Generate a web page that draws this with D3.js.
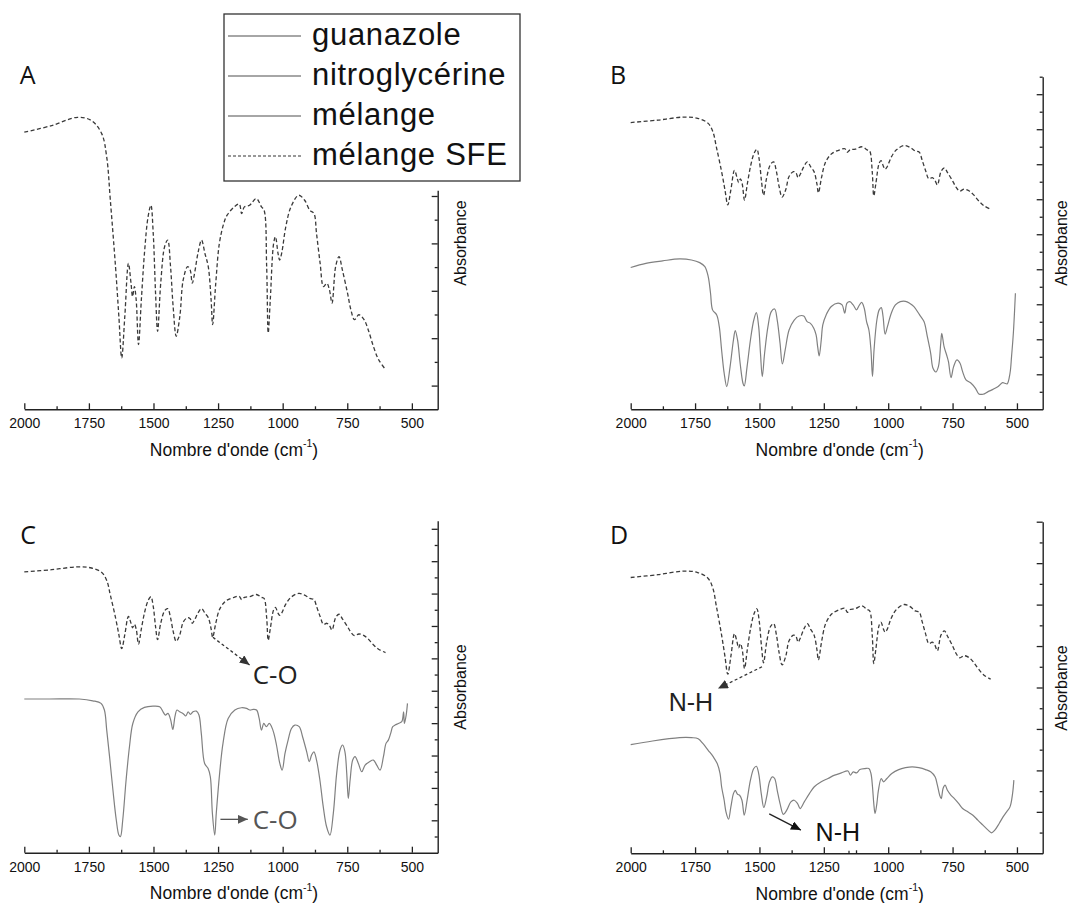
<!DOCTYPE html>
<html><head><meta charset="utf-8">
<script src="https://cdn.jsdelivr.net/npm/d3@7"></script>
<style>body{margin:0;background:#fff}svg{display:block}</style>
</head><body><svg id="chart" width="1071" height="903"></svg>
<script>
// ---------- DATA ----------
const wavenumberMajor = [2000, 1750, 1500, 1250, 1000, 750, 500];
const wavenumberMinor = [1875, 1625, 1375, 1125, 875, 625];
const legendLabels = ["guanazole", "nitroglycérine", "mélange", "mélange SFE"];
const panelLetters = ["A", "B", "C", "D"];
const xTitle = "Nombre d'onde (cm";
const yTitle = "Absorbance";

// mélange SFE (dashed), arbitrary absorbance units
const sfeWn = [2000,1894,1794,1740,1700,1681,1667,1647,1634,1623,1611,1597,1587,1581,1574,1567,1558,1547,1534,1521,1510,1501,1492,1484,1472,1457,1445,1434,1424,1412,1398,1385,1368,1358,1350,1341,1328,1314,1301,1288,1277,1271,1259,1245,1228,1215,1188,1168,1159,1148,1128,1102,1082,1072,1062,1056,1048,1035,1028,1018,1012,1004,988,968,938,915,895,879,869,855,842,829,819,809,795,782,769,749,736,722,705,685,669,649,629,602];
const sfeAbs = [11.69,11.97,12.32,12.18,11.62,10.64,8.82,6.02,3.92,2.17,3.92,6.16,5.32,4.76,5.18,4.62,2.73,4.62,6.72,8.12,8.61,7.42,4.90,3.29,5.32,6.86,7.14,6.02,4.34,3.08,3.92,5.46,6.02,5.88,5.32,5.74,6.58,7.14,6.58,6.02,4.62,3.57,5.32,7.00,7.84,8.19,8.54,8.66,8.26,8.54,8.61,8.89,8.54,8.40,6.02,3.22,4.62,7.00,7.28,6.58,6.30,6.58,7.70,8.54,9.03,8.82,8.40,8.26,7.42,6.16,5.18,5.32,5.04,4.48,6.02,6.44,5.88,4.90,4.20,3.78,3.99,3.78,3.36,2.66,2.10,1.68];

// guanazole (panel B, solid)
const guanWn = [2000,1941,1876,1810,1764,1732,1712,1699,1690,1682,1666,1656,1647,1637,1627,1614,1601,1594,1585,1575,1564,1559,1548,1535,1522,1512,1503,1496,1489,1480,1467,1454,1441,1431,1420,1411,1400,1385,1365,1346,1328,1315,1302,1289,1280,1274,1268,1260,1254,1241,1221,1195,1179,1169,1160,1149,1136,1123,1114,1103,1093,1084,1075,1067,1061,1055,1044,1035,1027,1020,1012,1003,988,972,953,933,917,900,878,861,848,835,826,815,805,796,792,783,773,766,756,746,733,721,711,698,678,661,648,632,612,593,573,556,547,538,527,521,514,506];
const guanAbs = [8.10,8.34,8.48,8.59,8.53,8.38,8.15,7.58,6.63,5.68,5.39,4.72,3.39,2.06,1.30,2.44,3.96,4.50,3.96,2.63,1.49,1.33,2.44,3.96,5.10,5.52,4.72,3.20,1.87,3.20,4.72,5.58,5.73,5.10,3.77,2.59,3.39,4.53,5.10,5.33,5.33,5.01,4.91,4.63,4.25,3.58,3.05,3.96,4.82,5.39,5.87,6.06,5.96,5.49,6.06,6.15,5.96,5.68,5.90,6.11,5.77,5.01,4.53,3.39,1.87,3.39,5.10,5.68,5.81,5.30,4.29,4.72,5.49,5.96,6.15,6.17,6.06,5.87,5.39,5.01,4.15,3.20,2.34,2.13,2.44,3.77,4.34,3.58,3.10,2.72,1.81,2.44,2.82,2.63,2.15,1.68,1.49,1.20,0.88,0.86,1.01,1.14,1.30,1.52,1.49,1.45,2.06,3.01,4.34,6.63];

// nitroglycérine (panel C, solid)
const nitroWn = [2000,1903,1787,1735,1703,1690,1681,1670,1657,1644,1634,1628,1619,1606,1593,1580,1560,1535,1502,1476,1463,1454,1444,1434,1425,1417,1409,1399,1386,1375,1366,1357,1347,1334,1324,1315,1302,1289,1280,1272,1263,1257,1244,1231,1211,1185,1160,1140,1127,1114,1101,1091,1082,1073,1063,1052,1043,1034,1024,1011,1002,991,979,966,953,936,923,907,897,888,879,869,856,843,830,817,804,791,778,768,759,752,746,739,729,720,707,694,681,664,649,636,623,610,600,591,582,574,565,552,539,532,529,522,517];
const nitroAbs = [9.49,9.49,9.49,9.38,9.22,8.81,7.57,5.93,3.87,2.02,1.09,0.99,2.02,4.49,6.54,7.98,8.70,8.97,9.05,9.01,8.70,8.50,8.60,8.23,7.61,8.40,8.81,8.70,8.60,8.44,8.70,8.54,8.70,8.74,8.50,7.37,5.51,5.21,4.69,2.43,1.09,2.43,4.90,6.75,8.29,8.81,8.95,8.91,8.81,8.85,8.81,8.29,7.57,7.98,7.78,7.98,7.78,7.37,6.65,5.51,5.10,6.13,6.95,7.67,7.88,7.78,7.16,6.23,5.62,6.03,6.23,5.72,4.49,2.84,1.60,1.09,2.43,4.90,6.34,6.65,6.23,4.90,3.35,4.49,5.72,5.93,5.51,5.00,5.41,5.62,5.72,5.41,5.10,5.93,6.75,6.95,7.37,7.78,7.88,7.98,8.09,8.70,7.98,8.50,9.22];

// mélange (panel D, solid)
const melWn = [2000,1915,1810,1764,1738,1719,1699,1679,1664,1653,1647,1637,1630,1620,1611,1601,1594,1585,1577,1568,1559,1548,1535,1522,1512,1503,1493,1483,1472,1461,1450,1441,1431,1420,1407,1394,1378,1365,1352,1342,1326,1306,1287,1260,1234,1208,1182,1156,1147,1136,1123,1110,1090,1075,1067,1061,1056,1051,1044,1038,1027,1018,1005,986,959,933,907,881,855,835,818,809,800,794,787,779,770,756,743,726,711,691,671,652,632,612,599,586,569,554,540,527,517,512];
const melAbs = [5.24,5.42,5.58,5.58,5.53,5.29,4.97,4.65,4.33,3.85,3.21,2.56,2.00,1.65,2.24,2.88,3.04,2.85,2.80,2.56,1.84,2.56,3.53,4.09,4.20,3.85,2.88,2.21,2.72,3.45,3.69,3.61,3.04,2.40,1.88,2.08,2.48,2.56,2.40,2.16,2.48,2.88,3.21,3.45,3.61,3.77,3.88,3.97,3.77,3.93,3.88,4.04,4.09,4.09,3.85,3.21,2.40,1.92,2.40,3.04,3.61,3.45,3.61,3.85,4.04,4.13,4.17,4.13,4.04,3.93,3.69,3.29,2.80,2.64,3.13,3.29,3.04,2.80,2.64,2.40,2.16,2.00,1.84,1.60,1.36,1.12,0.99,1.12,1.44,1.76,2.00,2.24,2.88,3.53];

// stacking of the SFE trace in each panel: [scale, offset]
const sfeStack = [[1, 0], [0.4946, 10.60], [0.4975, 11.52], [0.49, 7.58]];

// ---------- LAYOUT ----------
const FONT = "'Liberation Sans', Arial, sans-serif";
const LETTER_FONT = "'Open Sans', 'Liberation Sans', sans-serif";
const layout = [
  {xr:[24.3,437.7], yr:[409.3,190.3], top:9.24, majorOdd:true,  letter:[27.6,74], abs:[460,243], lower:null},
  {xr:[630.7,1042.7], yr:[409.3,76.7], top:19,  majorOdd:false, letter:[618,74], abs:[1061,243], lower:[guanWn,guanAbs]},
  {xr:[24.3,437.7], yr:[852.7,520.7], top:20.5, majorOdd:false, letter:[28,534], abs:[460,687], lower:[nitroWn,nitroAbs]},
  {xr:[630.7,1042.7], yr:[853.3,521.7], top:16,  majorOdd:false, letter:[619,534], abs:[1061,688], lower:[melWn,melAbs]}
];
const annotations = [
  {p:2, from:[1270,13.3], to:[1128,11.59], text:"C-O", at:[1116,11.03], anchor:"start", dash:"3,2.5", stroke:"#333", marker:"mDark", fill:"#222", font:LETTER_FONT, size:26},
  {p:2, from:[1241,2.06], to:[1135,2.06], text:"C-O", at:[1116,2.06], anchor:"start", dash:null, stroke:"#555", marker:"mGray", fill:"#555", font:LETTER_FONT, size:26},
  {p:3, from:[1490,9.0], to:[1661,7.95], text:"N-H", at:[1766,7.29], anchor:"middle", dash:"3,2.5", stroke:"#333", marker:"mDark", fill:"#222", font:FONT, size:25},
  {p:3, from:[1462,1.9], to:[1339,1.12], text:"N-H", at:[1282,1.04], anchor:"start", dash:null, stroke:"#222", marker:"mBlack", fill:"#111", font:FONT, size:25}
];

const svg = d3.select("#chart");
const defs = svg.append("defs");
[["mDark","#333"],["mGray","#555"],["mBlack","#111"]].forEach(([id,c])=>{
  defs.append("marker").attr("id",id).attr("markerUnits","userSpaceOnUse")
    .attr("markerWidth",11).attr("markerHeight",9).attr("refX",10).attr("refY",4.5)
    .attr("orient","auto")
    .append("path").attr("d","M0,0 L10,4.5 L0,9 Z").attr("fill",c);
});

layout.forEach((L, i) => {
  const g = svg.append("g");
  const x = d3.scaleLinear().domain([2000, 400]).range(L.xr);
  const y = d3.scaleLinear().domain([0, L.top]).range(L.yr);
  const yb = L.yr[0];

  // x axis: major ticks with labels, minor ticks
  const xa = g.append("g").attr("transform", `translate(0,${yb})`)
    .call(d3.axisBottom(x).tickValues(wavenumberMajor).tickSize(-6).tickSizeOuter(0).tickPadding(9).tickFormat(d3.format("d")));
  g.append("g").attr("transform", `translate(0,${yb})`)
    .call(d3.axisBottom(x).tickValues(wavenumberMinor).tickSize(-3).tickSizeOuter(0).tickFormat(""))
    .select(".domain").remove();
  xa.selectAll("text").attr("font-family", FONT).attr("font-size", 14).attr("fill", "#111");

  // right y axis, inward ticks
  const yTicks = d3.range(1, Math.floor(L.top) + 1);
  const maj = yTicks.filter(t => (t % 2 === 1) === L.majorOdd);
  const mnr = yTicks.filter(t => (t % 2 === 1) !== L.majorOdd);
  const xRight = L.xr[1];
  g.append("g").attr("transform", `translate(${xRight},0)`)
    .call(d3.axisRight(y).tickValues(maj).tickSize(-6).tickSizeOuter(0).tickFormat(""));
  g.append("g").attr("transform", `translate(${xRight},0)`)
    .call(d3.axisRight(y).tickValues(mnr).tickSize(-3).tickSizeOuter(0).tickFormat(""))
    .select(".domain").remove();
  g.selectAll(".domain").attr("stroke", "#222").attr("stroke-width", 1.4);
  g.selectAll(".tick line").attr("stroke", "#222").attr("stroke-width", 1.3);

  // titles
  const t = g.append("text").attr("x", (L.xr[0] + L.xr[1]) / 2 + 3).attr("y", yb + 40.5)
    .attr("text-anchor", "middle").attr("dominant-baseline", "central")
    .attr("font-family", FONT).attr("font-size", 17.5).attr("fill", "#111");
  t.append("tspan").text(xTitle);
  t.append("tspan").attr("font-size", 10.5).attr("dy", -6.5).text("-1");
  t.append("tspan").attr("dy", 6.5).text(")");

  g.append("text").attr("transform", `translate(${L.abs[0]},${L.abs[1]}) rotate(-90)`)
    .attr("text-anchor", "middle").attr("dominant-baseline", "central")
    .attr("font-family", FONT).attr("font-size", 16).attr("fill", "#111").text(yTitle);

  g.append("text").attr("x", L.letter[0]).attr("y", L.letter[1])
    .attr("text-anchor", "middle").attr("dominant-baseline", "central")
    .attr("font-family", LETTER_FONT).attr("font-size", 25).attr("fill", "#111").text(panelLetters[i]);

  const line = d3.line().x(d => x(d[0])).y(d => y(d[1])).curve(d3.curveCatmullRom.alpha(0.5));

  if (L.lower) {
    g.append("path").datum(d3.zip(L.lower[0], L.lower[1]))
      .attr("d", line).attr("fill", "none").attr("stroke", "#808080").attr("stroke-width", 1.2);
  }
  const [k, b] = sfeStack[i];
  g.append("path").datum(d3.zip(sfeWn, sfeAbs.map(v => k * v + b)))
    .attr("d", line).attr("fill", "none").attr("stroke", "#3a3a3a")
    .attr("stroke-width", 1.3).attr("stroke-dasharray", "4,2.5");

  annotations.filter(a => a.p === i).forEach(a => {
    const ln = g.append("line")
      .attr("x1", x(a.from[0])).attr("y1", y(a.from[1]))
      .attr("x2", x(a.to[0])).attr("y2", y(a.to[1]))
      .attr("stroke", a.stroke).attr("stroke-width", 1.3)
      .attr("marker-end", `url(#${a.marker})`);
    if (a.dash) ln.attr("stroke-dasharray", a.dash);
    g.append("text").attr("x", x(a.at[0])).attr("y", y(a.at[1]))
      .attr("text-anchor", a.anchor).attr("dominant-baseline", "central")
      .attr("font-family", a.font).attr("font-size", a.size).attr("fill", a.fill).text(a.text);
  });

  // small step in the x-axis line of panel D (as in the reference)
  if (i === 3) {
    g.append("line").attr("x1", 849).attr("x2", 849).attr("y1", yb - 2.5).attr("y2", yb + 0.5)
      .attr("stroke", "#222").attr("stroke-width", 1.2);
  }
});

// legend
const lg = svg.append("g");
lg.append("rect").attr("x", 224).attr("y", 14).attr("width", 296).attr("height", 167)
  .attr("fill", "#fff").attr("stroke", "#333").attr("stroke-width", 1.3);
const ly = d3.scalePoint().domain(legendLabels).range([36, 156]);
legendLabels.forEach((lab, j) => {
  const dashed = j === 3;
  lg.append("line").attr("x1", 228).attr("x2", 301).attr("y1", ly(lab)).attr("y2", ly(lab))
    .attr("stroke", dashed ? "#333" : "#888").attr("stroke-width", dashed ? 1.2 : 1.4)
    .attr("stroke-dasharray", dashed ? "3,2" : null);
  lg.append("text").attr("x", 312).attr("y", ly(lab) + 9)
    .attr("font-family", FONT).attr("font-size", 31).attr("letter-spacing", 0.7)
    .attr("fill", "#111").text(lab);
});
</script></body></html>
